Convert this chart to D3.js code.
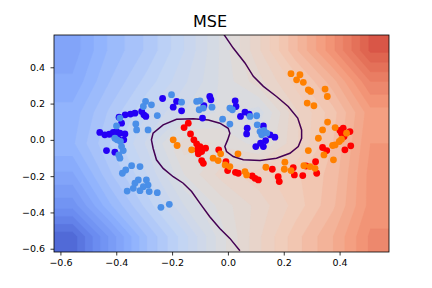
<!DOCTYPE html>
<html>
<head>
<meta charset="utf-8">
<script src="https://cdn.jsdelivr.net/npm/d3@7"></script>
<style>
  body { margin: 0; background: #fff; }
  text { font-family: "DejaVu Sans", sans-serif; }
</style>
</head>
<body>
<div id="chart"></div>
<script>
// tick labels
const xTicks = [-0.6, -0.4, -0.2, 0.0, 0.2, 0.4];
const yTicks = [-0.6, -0.4, -0.2, 0.0, 0.2, 0.4];

// scatter classes
const darkBlueX = [-0.459,-0.441,-0.425,-0.411,-0.399,-0.387,-0.369,-0.405,-0.393,-0.373,-0.435,-0.405,-0.381,-0.390,-0.368,-0.349,-0.333,-0.309,-0.301,-0.294,-0.234,-0.196,-0.166,-0.184,-0.065,-0.061,-0.086,-0.091,0.026,0.029,0.061,0.076,0.045,0.069,0.067,0.127,0.151,0.168,0.135,0.127,0.100,0.117];
const darkBlueY = [0.041,0.028,0.031,0.041,0.046,0.037,0.033,0.018,0.004,0.000,-0.059,-0.068,0.092,0.125,0.138,0.142,0.147,0.157,0.138,0.129,0.228,0.180,0.160,0.212,0.239,0.221,0.188,0.120,0.215,0.184,0.153,0.142,0.129,0.064,0.033,0.077,0.028,0.015,-0.004,-0.037,-0.037,-0.018];

const lightBlueX = [-0.202,-0.295,-0.274,-0.303,-0.253,-0.327,-0.330,-0.387,-0.399,-0.405,-0.397,-0.385,-0.381,-0.375,-0.391,-0.387,-0.345,-0.315,-0.366,-0.378,-0.321,-0.333,-0.339,-0.292,-0.286,-0.303,-0.282,-0.361,-0.315,-0.253,-0.240,-0.210,-0.166,-0.112,-0.100,-0.103,-0.088,-0.057,-0.019,0.007,0.016,0.007,0.079,0.103,0.105,0.115,0.129,0.121,0.139,-0.286];
const lightBlueY = [0.249,0.212,0.193,0.184,0.134,0.055,0.088,0.120,0.077,0.009,0.000,-0.009,-0.037,-0.059,-0.083,-0.101,-0.142,-0.147,-0.166,-0.184,-0.221,-0.239,-0.267,-0.221,-0.249,-0.258,-0.285,-0.282,-0.280,-0.291,-0.372,-0.355,0.208,0.212,0.215,0.166,0.175,0.180,0.114,0.175,0.166,0.087,0.129,0.133,0.083,0.046,0.052,0.028,0.037,0.055];

const redX = [-0.142,-0.157,-0.134,-0.122,-0.112,-0.100,-0.110,-0.094,-0.080,-0.094,-0.088,-0.033,-0.007,-0.001,0.027,0.037,0.087,0.097,0.109,0.159,0.180,0.184,0.234,0.238,0.268,0.280,0.314,0.318,0.339,0.354,0.413,0.407,0.416,0.437,0.419,0.440,0.401,-0.106];
const redY = [0.092,0.068,0.033,0.000,-0.022,-0.037,-0.055,-0.064,-0.046,-0.114,-0.129,-0.055,-0.120,-0.169,-0.179,-0.184,-0.199,-0.212,-0.221,-0.162,-0.203,-0.230,-0.153,-0.193,-0.197,-0.144,-0.120,-0.184,-0.042,-0.059,0.064,0.037,0.018,0.046,-0.055,-0.033,0.052,-0.077];

const orangeX = [0.226,0.258,0.246,0.270,0.288,0.296,0.348,0.356,0.284,0.308,0.357,0.339,0.384,0.324,0.407,0.425,0.399,0.375,0.344,0.378,0.288,-0.196,-0.182,-0.130,-0.053,-0.035,-0.026,-0.010,0.007,0.036,0.061,0.067,0.136,0.204,0.202,0.226,0.272,0.294,0.312,0.384];
const orangeY = [0.365,0.359,0.331,0.317,0.276,0.267,0.280,0.239,0.203,0.188,0.098,0.055,0.068,0.009,0.004,0.037,-0.009,-0.031,-0.083,-0.110,-0.059,0.000,-0.031,-0.055,-0.101,-0.114,-0.077,-0.138,-0.147,-0.077,-0.175,-0.193,-0.151,-0.123,-0.162,-0.169,-0.142,-0.147,-0.157,-0.028];

// decision boundary
const boundaryX = [-0.014,0.019,0.061,0.091,0.127,0.174,0.216,0.250,0.264,0.264,0.252,0.222,0.174,0.115,0.055,0.019,-0.005,-0.011,-0.001,0.007,0.001,-0.029,-0.070,-0.124,-0.184,-0.232,-0.268,-0.274,-0.268,-0.256,-0.232,-0.196,-0.160,-0.130,-0.100,-0.065,-0.029,0.007,0.043];
const boundaryY = [0.580,0.506,0.424,0.350,0.295,0.239,0.184,0.120,0.055,0.009,-0.037,-0.074,-0.101,-0.114,-0.110,-0.092,-0.064,-0.037,0.000,0.037,0.064,0.092,0.110,0.116,0.114,0.083,0.037,0.000,-0.046,-0.110,-0.157,-0.203,-0.239,-0.285,-0.350,-0.424,-0.488,-0.543,-0.611];

// background model output, 9 columns x 7 rows (top row first)
const fieldCols = 9, fieldRows = 7;
const fieldValues = [
  0.21,0.28,0.33,0.40,0.48,0.57,0.67,0.77,0.88,
  0.23,0.30,0.36,0.42,0.48,0.54,0.61,0.69,0.80,
  0.26,0.33,0.40,0.45,0.48,0.46,0.57,0.64,0.74,
  0.27,0.35,0.43,0.54,0.52,0.49,0.57,0.65,0.75,
  0.22,0.32,0.40,0.50,0.56,0.59,0.62,0.66,0.76,
  0.16,0.27,0.36,0.45,0.51,0.56,0.61,0.67,0.76,
  0.06,0.18,0.30,0.39,0.49,0.57,0.64,0.70,0.78
];

const width = 432, height = 288;
const xDomain = [-0.623, 0.577], yDomain = [-0.618, 0.578];

const x = d3.scaleLinear().domain(xDomain).range([54, 389]);
const y = d3.scaleLinear().domain(yDomain).range([252, 35]);

// coolwarm-like colormap
const coolwarm = d3.scaleLinear()
  .domain([0, 0.125, 0.25, 0.375, 0.5, 0.625, 0.75, 0.875, 1])
  .range(['#3b4cc0', '#6788ee', '#8db0fe', '#c0d4f5', '#dddcdc', '#f2cbb7', '#f49a7b', '#dd5f4b', '#b40426'])
  .interpolate(d3.interpolateRgb);

const svg = d3.select('#chart')
  .append('svg')
  .attr('width', width)
  .attr('height', height);

svg.append('defs').append('clipPath').attr('id', 'plot-clip')
  .append('rect')
  .attr('x', x(xDomain[0])).attr('y', y(yDomain[1]))
  .attr('width', x(xDomain[1]) - x(xDomain[0]))
  .attr('height', y(yDomain[0]) - y(yDomain[1]));

const plot = svg.append('g').attr('clip-path', 'url(#plot-clip)');

// pad the grid by repeating its edge so contours don't close inside the plot
const padCols = fieldCols + 2, padRows = fieldRows + 2;
const padded = [];
for (let j = 0; j < padRows; j++) {
  const r = Math.min(Math.max(j - 1, 0), fieldRows - 1);
  for (let i = 0; i < padCols; i++) {
    const c = Math.min(Math.max(i - 1, 0), fieldCols - 1);
    padded.push(fieldValues[r * fieldCols + c]);
  }
}
const cellW = (xDomain[1] - xDomain[0]) / fieldCols;
const cellH = (yDomain[1] - yDomain[0]) / fieldRows;

// grid coords -> data -> pixels
const gx = d3.scaleLinear().domain([0, padCols]).range([xDomain[0] - cellW, xDomain[1] + cellW]);
const gy = d3.scaleLinear().domain([0, padRows]).range([yDomain[1] + cellH, yDomain[0] - cellH]);
const gridProj = d3.geoTransform({
  point: function(px, py) { this.stream.point(x(gx(px)), y(gy(py))); }
});
const path = d3.geoPath(gridProj);

const step = 0.025;
const thresholds = d3.range(0, 1, step);
const contours = d3.contours()
  .size([padCols, padRows])
  .thresholds(thresholds)(padded);

plot.selectAll('path.band')
  .data(contours)
  .enter()
  .append('path')
  .attr('class', 'band')
  .attr('d', path)
  .attr('fill', d => coolwarm(d.value + step / 2))
  .attr('stroke', d => coolwarm(d.value + step / 2))
  .attr('stroke-width', 0.3);

// boundary line
const line = d3.line()
  .x((d, i) => x(boundaryX[i]))
  .y((d, i) => y(boundaryY[i]));
plot.append('path')
  .attr('d', line(boundaryX))
  .attr('fill', 'none')
  .attr('stroke', '#440154')
  .attr('stroke-width', 1.5);

// scatter
const classes = [
  { xs: darkBlueX, ys: darkBlueY, color: '#2400f5' },
  { xs: lightBlueX, ys: lightBlueY, color: '#4a8fe8' },
  { xs: redX, ys: redY, color: '#ff0000' },
  { xs: orangeX, ys: orangeY, color: '#ff8000' }
];
classes.forEach(c => {
  plot.append('g').selectAll('circle')
    .data(c.xs)
    .enter()
    .append('circle')
    .attr('cx', d => x(d))
    .attr('cy', (d, i) => y(c.ys[i]))
    .attr('r', 3.4)
    .attr('fill', c.color);
});

// axes
const fmt = d3.format('.1f');
const xAxis = svg.append('g')
  .attr('transform', 'translate(0,252)')
  .call(d3.axisBottom(x).tickValues(xTicks).tickSize(3.5).tickPadding(3.5).tickFormat(fmt));
const yAxis = svg.append('g')
  .attr('transform', 'translate(54,0)')
  .call(d3.axisLeft(y).tickValues(yTicks).tickSize(3.5).tickPadding(5.5).tickFormat(fmt));
[xAxis, yAxis].forEach(a => {
  a.select('.domain').remove();
  a.selectAll('text').attr('font-size', 9.5).attr('fill', '#000').attr('font-family', 'DejaVu Sans');
  a.selectAll('line').attr('stroke', '#000').attr('stroke-width', 0.8);
});

// frame
svg.append('rect')
  .attr('x', x(xDomain[0])).attr('y', y(yDomain[1]))
  .attr('width', x(xDomain[1]) - x(xDomain[0]))
  .attr('height', y(yDomain[0]) - y(yDomain[1]))
  .attr('fill', 'none')
  .attr('stroke', '#000')
  .attr('stroke-width', 0.8);

// title
svg.append('text')
  .attr('x', 210)
  .attr('y', 27)
  .attr('text-anchor', 'middle')
  .attr('font-size', 16)
  .attr('fill', '#000')
  .text('MSE');
</script>
</body>
</html>
